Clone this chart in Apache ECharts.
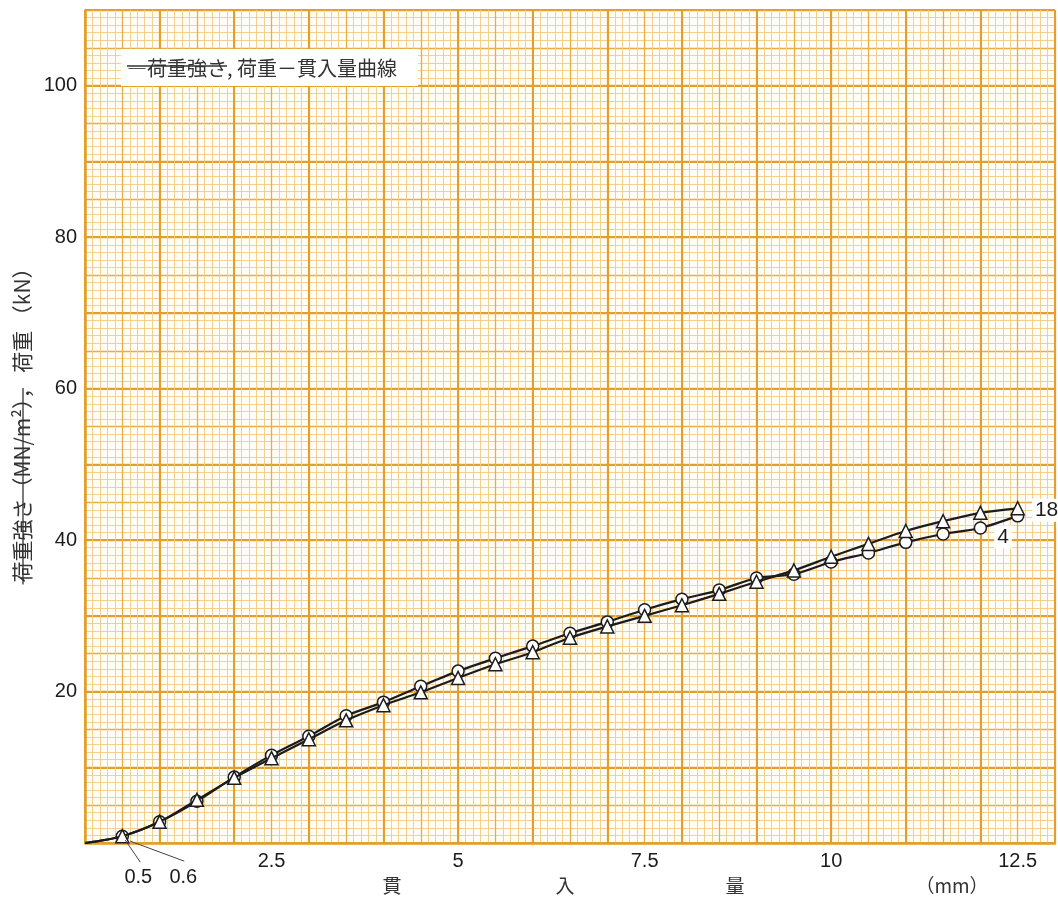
<!DOCTYPE html>
<html>
<head>
<meta charset="utf-8">
<script src="https://cdn.jsdelivr.net/npm/echarts@6/dist/echarts.min.js"></script>
<style>
  html, body { margin: 0; padding: 0; background: #ffffff; }
  #chart { width: 1058px; height: 900px; }
</style>
</head>
<body>
<div id="chart"></div>
<script>
// penetration (mm) at which readings were taken
const penetration = [0, 0.5, 1, 1.5, 2, 2.5, 3, 3.5, 4, 4.5, 5, 5.5, 6, 6.5, 7, 7.5, 8, 8.5, 9, 9.5, 10, 10.5, 11, 11.5, 12, 12.5];

// load (kN), curve "4" (circles)
const loadCircle = [0, 0.9, 2.8, 5.5, 8.7, 11.6, 14.1, 16.8, 18.6, 20.7, 22.7, 24.4, 26.0, 27.7, 29.2, 30.8, 32.2, 33.4, 35.0, 35.5, 37.1, 38.3, 39.7, 40.8, 41.6, 43.2];

// load (kN), curve "18" (triangles)
const loadTriangle = [0, 0.9, 2.8, 5.7, 8.6, 11.2, 13.7, 16.2, 18.2, 19.9, 21.8, 23.6, 25.2, 27.1, 28.6, 30.0, 31.4, 32.9, 34.5, 36.0, 37.8, 39.5, 41.2, 42.5, 43.6, 44.2];

const xLabels = [2.5, 5, 7.5, 10, 12.5];
const yLabels = [20, 40, 60, 80, 100];

const paperMajor = "#e39e2c";
const paperMid = "#e9ad45";
const paperMinor = "#f2cb82";
const ink = "#1c1c1c";
const textGrey = "#333333";

function buildData(values, endLabel) {
  return penetration.map((x, i) => {
    const item = { value: [x, values[i]] };
    if (x === 0) item.symbol = "none";
    if (endLabel && x === endLabel.at) {
      item.label = {
        show: true,
        formatter: endLabel.text,
        position: "right",
        offset: endLabel.offset,
        color: ink,
        fontFamily: "Liberation Sans",
        fontSize: 21,
        backgroundColor: "#ffffff",
        padding: [2, 3, 0, 3]
      };
    }
    return item;
  });
}

// paper: fine lines every 0.1 mm / 1 kN, mid lines every 0.5 mm / 5 kN, bold every 1 mm / 10 kN
function paperAxis(max, interval, extra) {
  return Object.assign({
    type: "value",
    min: 0,
    max: max,
    interval: interval,
    axisTick: { show: false }
  }, extra);
}

const chart = echarts.init(document.getElementById("chart"), null, { renderer: "canvas" });

chart.setOption({
  animation: false,
  backgroundColor: "#ffffff",
  grid: {
    left: 85,
    top: 10,
    width: 975,
    height: 833,
    show: true,
    backgroundColor: "#fffdf6",
    borderWidth: 0
  },
  xAxis: [
    paperAxis(13, 0.5, {
      axisLine: { show: true, onZero: false, lineStyle: { color: paperMajor, width: 2.5 } },
      axisLabel: {
        margin: 8,
        color: ink,
        fontFamily: "Liberation Sans",
        fontSize: 20,
        formatter: (v) => (xLabels.some((t) => Math.abs(t - v) < 1e-6) ? String(v) : "")
      },
      splitLine: { show: true, lineStyle: { color: paperMid, width: 1.3 } },
      minorTick: { show: false, splitNumber: 5 },
      minorSplitLine: { show: true, lineStyle: { color: paperMinor, width: 0.9 } }
    }),
    paperAxis(13, 1, {
      position: "bottom",
      axisLine: { show: false },
      axisLabel: { show: true, color: "rgba(0,0,0,0)", fontSize: 1, formatter: () => "" },
      splitLine: { show: true, lineStyle: { color: paperMajor, width: 2 } }
    })
  ],
  yAxis: [
    paperAxis(110, 5, {
      axisLine: { show: true, lineStyle: { color: paperMajor, width: 2.5 } },
      axisLabel: {
        margin: 8,
        color: ink,
        fontFamily: "Liberation Sans",
        fontSize: 20,
        formatter: (v) => (yLabels.includes(v) ? String(v) : "")
      },
      splitLine: { show: true, lineStyle: { color: paperMid, width: 1.3 } },
      minorTick: { show: false, splitNumber: 5 },
      minorSplitLine: { show: true, lineStyle: { color: paperMinor, width: 0.9 } }
    }),
    paperAxis(110, 10, {
      position: "left",
      axisLine: { show: false },
      axisLabel: { show: true, color: "rgba(0,0,0,0)", fontSize: 1, formatter: () => "" },
      splitLine: { show: true, lineStyle: { color: paperMajor, width: 2 } }
    })
  ],
  series: [
    {
      name: "4",
      type: "line",
      smooth: 0.3,
      data: buildData(loadCircle, { at: 12, text: "4", offset: [2, 9] }),
      symbol: "circle",
      symbolSize: 12,
      showAllSymbol: true,
      lineStyle: { color: ink, width: 2.2 },
      itemStyle: { color: "#ffffff", borderColor: ink, borderWidth: 1.5 },
      z: 3
    },
    {
      name: "18",
      type: "line",
      smooth: 0.3,
      data: buildData(loadTriangle, { at: 12.5, text: "18", offset: [2, 2] }),
      symbol: "triangle",
      symbolSize: 13,
      showAllSymbol: true,
      lineStyle: { color: ink, width: 2.2 },
      itemStyle: { color: "#ffffff", borderColor: ink, borderWidth: 1.5 },
      z: 4
    }
  ]
});

// measure text so the strike-through lines cover the right words
const measureCtx = document.createElement("canvas").getContext("2d");
function textWidth(text, font) {
  measureCtx.font = font;
  return measureCtx.measureText(text).width;
}

const p05 = chart.convertToPixel({ xAxisIndex: 0, yAxisIndex: 0 }, [0.5, 0.9]);
const labelFont = "20px 'Liberation Sans'";
const jpFont = "19px 'Noto Sans CJK JP'";

const yNameFont = "21px 'Noto Sans CJK JP'";
const yNameStruck = "荷重強さ（MN/m²）";
const yName = yNameStruck + "， 荷重 （kN）";
const yNameCenter = 420;
const yNameBottom = yNameCenter + textWidth(yName, yNameFont) / 2;
const yNameStrikeTop = yNameBottom - textWidth(yNameStruck, yNameFont);

const boxFont = "20px 'Noto Sans CJK JP'";
const boxStruck = "―荷重強さ";
const boxText = boxStruck + ", 荷重－貫入量曲線";

chart.setOption({
  graphic: [
    { type: "rect", shape: { x: 121, y: 49, width: 297, height: 37 }, style: { fill: "#ffffff" }, z: 10 },
    {
      type: "text", x: 127, y: 68, z: 11,
      style: { text: boxText, font: boxFont, fill: textGrey, verticalAlign: "middle" }
    },
    {
      type: "line", z: 12,
      shape: { x1: 127, y1: 66, x2: 127 + textWidth(boxStruck, boxFont), y2: 66 },
      style: { stroke: textGrey, lineWidth: 1.4 }
    },

    {
      type: "text", x: 22, y: yNameCenter, rotation: Math.PI / 2, z: 11,
      style: { text: yName, font: yNameFont, fill: textGrey, align: "center", verticalAlign: "middle" }
    },
    {
      type: "line", z: 12,
      shape: { x1: 23, y1: yNameBottom + 2, x2: 23, y2: yNameStrikeTop },
      style: { stroke: textGrey, lineWidth: 1.3 }
    },

    { type: "text", x: 392, y: 886, z: 11, style: { text: "貫", font: jpFont, fill: textGrey, align: "center", verticalAlign: "middle" } },
    { type: "text", x: 565, y: 886, z: 11, style: { text: "入", font: jpFont, fill: textGrey, align: "center", verticalAlign: "middle" } },
    { type: "text", x: 735, y: 886, z: 11, style: { text: "量", font: jpFont, fill: textGrey, align: "center", verticalAlign: "middle" } },
    { type: "text", x: 952, y: 886, z: 11, style: { text: "（mm）", font: jpFont, fill: textGrey, align: "center", verticalAlign: "middle" } },

    { type: "line", shape: { x1: p05[0] + 3, y1: p05[1] + 4, x2: p05[0] + 18, y2: p05[1] + 26 }, style: { stroke: "#444444", lineWidth: 1 }, z: 12 },
    { type: "line", shape: { x1: p05[0] + 8, y1: p05[1] + 5, x2: p05[0] + 62, y2: p05[1] + 25 }, style: { stroke: "#444444", lineWidth: 1 }, z: 12 },
    { type: "text", x: p05[0] + 16, y: p05[1] + 41, z: 11, style: { text: "0.5", font: labelFont, fill: ink, align: "center", verticalAlign: "middle" } },
    { type: "text", x: p05[0] + 61, y: p05[1] + 41, z: 11, style: { text: "0.6", font: labelFont, fill: ink, align: "center", verticalAlign: "middle" } }
  ]
});
</script>
</body>
</html>
